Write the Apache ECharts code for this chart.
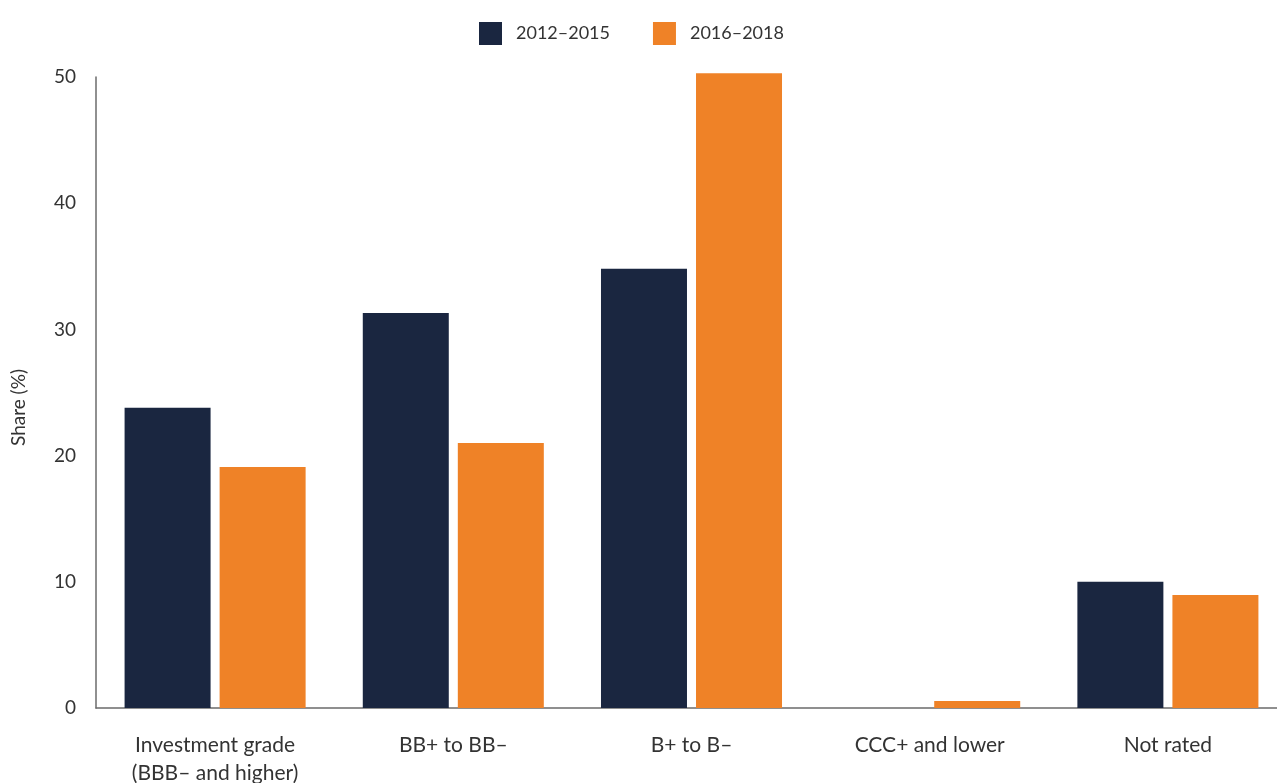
<!DOCTYPE html>
<html><head><meta charset="utf-8">
<script src="https://cdn.jsdelivr.net/npm/echarts@6/dist/echarts.min.js"></script>
<style>html,body{margin:0;padding:0;background:#fff}#c{width:1277px;height:783px}</style>
</head><body><div id="c"></div>
<script>
const categories = ['Investment grade\n(BBB– and higher)', 'BB+ to BB–', 'B+ to B–', 'CCC+ and lower', 'Not rated'];
const series2012_2015 = [23.8, 31.3, 34.8, 0, 10.0];
const series2016_2018 = [19.1, 21.0, 50.3, 0.55, 8.95];
const seriesNames = ['2012–2015', '2016–2018'];
const yTicks = [0, 10, 20, 30, 40, 50];

const font = 'Lato, "Open Sans", sans-serif';
const chart = echarts.init(document.getElementById('c'));
chart.setOption({
  animation: false,
  color: ['#1a2640', '#ef8227'],
  legend: {
    top: 17, left: 474, itemWidth: 23, itemHeight: 23, itemGap: 43,
    icon: 'rect',
    textStyle: { fontFamily: font, fontSize: 18, color: '#333', padding: [0, 0, 0, 9] },
    data: seriesNames
  },
  grid: { left: 96, width: 1191, top: 77, height: 631, containLabel: false, outerBoundsMode: 'none' },
  xAxis: {
    type: 'category', data: categories,
    axisLine: { lineStyle: { color: '#6b6b6b', width: 1.5 } },
    axisTick: { show: false },
    axisLabel: { fontFamily: font, fontSize: 21, color: '#333', margin: 23, lineHeight: 28 }
  },
  yAxis: {
    type: 'value', min: 0, max: 50, interval: 10,
    name: 'Share (%)', nameLocation: 'middle', nameGap: 68,
    nameTextStyle: { fontFamily: font, fontSize: 19, color: '#333', padding: [0, 30, 0, 0] },
    axisLine: { show: true, lineStyle: { color: '#6b6b6b', width: 1.5 } },
    axisTick: { show: false },
    splitLine: { show: false },
    axisLabel: { fontFamily: font, fontSize: 19, color: '#333', margin: 20,
      formatter: v => yTicks.includes(v) ? String(v) : '' }
  },
  series: [
    { name: seriesNames[0], type: 'bar', data: series2012_2015, barWidth: 86, barGap: '10.5%', clip: false },
    { name: seriesNames[1], type: 'bar', data: series2016_2018, barWidth: 86, clip: false }
  ]
});
</script></body></html>
